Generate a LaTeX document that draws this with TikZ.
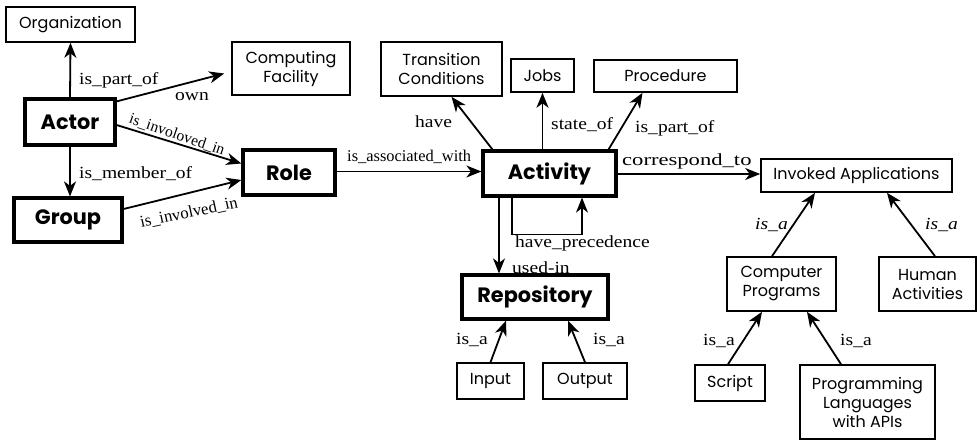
\documentclass[tikz,border=0pt]{standalone}
\usepackage{fontspec}
\setmainfont{Liberation Serif}
\newfontfamily\boxfont{Poppins}
\newfontfamily\lblfont[FakeStretch=1.15]{Liberation Serif}
\newfontfamily\widelblfont[FakeStretch=1.33]{Liberation Serif}
\usetikzlibrary{arrows.meta}
\begin{document}
\begin{tikzpicture}[x=1pt,y=-1pt,
  box/.style={draw, line width=1.6pt, inner sep=0pt, align=center,
    font=\boxfont\fontsize{16}{19}\selectfont},
  keybox/.style={draw, line width=3.2pt, inner sep=0pt,
    font=\boxfont\bfseries\fontsize{20.8}{24}\selectfont},
  arr/.style={line width=1.8pt, -{Stealth[length=15pt,width=12pt,inset=4.5pt]}},
  thinarr/.style={line width=1.3pt, -{Stealth[length=15pt,width=12pt,inset=4.5pt]}},
  lbl/.style={inner sep=0pt, anchor=west, font=\lblfont\fontsize{17}{19}\selectfont},
  ilbl/.style={lbl, font=\lblfont\fontsize{17}{19}\selectfont\itshape},
  plainlbl/.style={inner sep=0pt, anchor=west},
]
\useasboundingbox (0,0) rectangle (977,439);

% concept boxes
\node[box, minimum width=129pt, minimum height=35pt] (org) at (70.5,24.5) {Organization};
\node[box, minimum width=118pt, minimum height=53pt] (cf) at (291,68.5) {Computing\\Facility};
\node[keybox, minimum width=90pt, minimum height=46pt] (actor) at (70,122) {Actor};
\node[keybox, minimum width=108pt, minimum height=44pt] (group) at (68,220) {Group};
\node[keybox, minimum width=92pt, minimum height=45pt] (role) at (289,172.5) {Role};
\node[box, minimum width=121pt, minimum height=54pt] (trans) at (441.5,69) {Transition\\Conditions};
\node[box, minimum width=63pt, minimum height=33pt] (jobs) at (542.5,75.5) {Jobs};
\node[box, minimum width=143pt, minimum height=32pt] (proc) at (665.5,76) {Procedure};
\node[keybox, minimum width=133pt, minimum height=45pt] (act) at (549.5,173.5) {Activity};
\node[box, minimum width=191pt, minimum height=33pt] (inv) at (856.5,175.5) {Invoked Applications};
\node[box, minimum width=109pt, minimum height=54pt] (cp) at (781.5,284) {Computer\\Programs};
\node[box, minimum width=97pt, minimum height=54pt] (hum) at (927.5,284) {Human\\Activities};
\node[box, minimum width=70pt, minimum height=36pt] (script) at (730,383) {Script};
\node[box, minimum width=135pt, minimum height=74pt] (pl) at (867.5,402) {Programming\\Languages\\with APIs};
\node[keybox, minimum width=146pt, minimum height=44pt] (repo) at (535,297) {Repository};
\node[box, minimum width=67pt, minimum height=36pt] (inp) at (490.5,381) {Input};
\node[box, minimum width=84pt, minimum height=36pt] (outp) at (585,381) {Output};

% relations
\draw[arr] (actor.north) -- (org.south);
\draw[arr] ([yshift=-4pt]actor.north east) -- ([xshift=-7pt,yshift=-5pt]cf.west);
\draw[arr] ([yshift=-3pt]actor.east) -- ([yshift=9pt]role.west);
\draw[arr] (actor.south) -- (actor.south |- group.north);
\draw[arr] ([yshift=11pt]group.east) -- ([yshift=-7.5pt]role.west);
\draw[arr] ([yshift=1pt]role.east) -- ([yshift=1pt]role.east -| act.west);
\draw[arr] ([xshift=11pt]act.north west) -- ([xshift=10pt]trans.south);
\draw[arr] (act.north -| jobs.south) -- (jobs.south);
\draw[arr] ([xshift=-9pt]act.north east) -- ([xshift=-23pt]proc.south);
\draw[arr] ([yshift=-0.5pt]act.east) -- ([yshift=-0.5pt]act.east -| inv.west);
\draw[thinarr] ([xshift=-37.5pt]act.south) |- ++(0,37) -| ([xshift=32.5pt]act.south);
\draw[thinarr] ([xshift=-50.5pt]act.south) -- ([xshift=-50.5pt]act.south |- repo.north);
\draw[arr] (inp.north) -- ([xshift=-29pt]repo.south);
\draw[arr] (outp.north) -- ([xshift=33pt]repo.south);
\draw[arr] ([xshift=-9.5pt]cp.north) -- ([xshift=-41.5pt]inv.south);
\draw[arr] ([xshift=7.5pt]hum.north) -- ([xshift=30.5pt]inv.south);
\draw[arr] ([xshift=-2pt]script.north) -- ([xshift=-19.5pt]cp.south);
\draw[arr] ([xshift=-26.5pt]pl.north) -- ([xshift=25.5pt]cp.south);

% relation names
\node[lbl] (l1) at (79,80) {is\_part\_of};
\node[lbl] (l2) at (175,97) {own};
\node[plainlbl, anchor=center, rotate=-19, font=\fontsize{15.5}{18}\selectfont] (l3) at (177,135) {is\_involoved\_in};
\node[lbl] (l4) at (79,174) {is\_member\_of};
\node[plainlbl, anchor=center, rotate=12, font=\fontsize{16.7}{19}\selectfont] (l5) at (189,213) {is\_involved\_in};
\node[plainlbl, font=\fontsize{16.4}{19}\selectfont] (l6) at (347,157) {is\_associated\_with};
\node[lbl] (l7) at (415,122) {have};
\node[lbl] (l8) at (551,125) {state\_of};
\node[lbl] (l9) at (635,128) {is\_part\_of};
\node[plainlbl, font=\widelblfont\fontsize{17}{19}\selectfont] (l10) at (622,161) {correspond\_to};
\node[lbl] (l11) at (515,243) {have\_precedence};
\node[lbl] (l12) at (512,268) {used-in};
\node[lbl] (l13) at (456,340) {is\_a};
\node[lbl] (l14) at (593,340) {is\_a};
\node[ilbl] (l15) at (755,225) {is\_a};
\node[ilbl] (l16) at (925,225) {is\_a};
\node[lbl] (l17) at (703,341) {is\_a};
\node[lbl] (l18) at (840,341) {is\_a};
\end{tikzpicture}
\end{document}
